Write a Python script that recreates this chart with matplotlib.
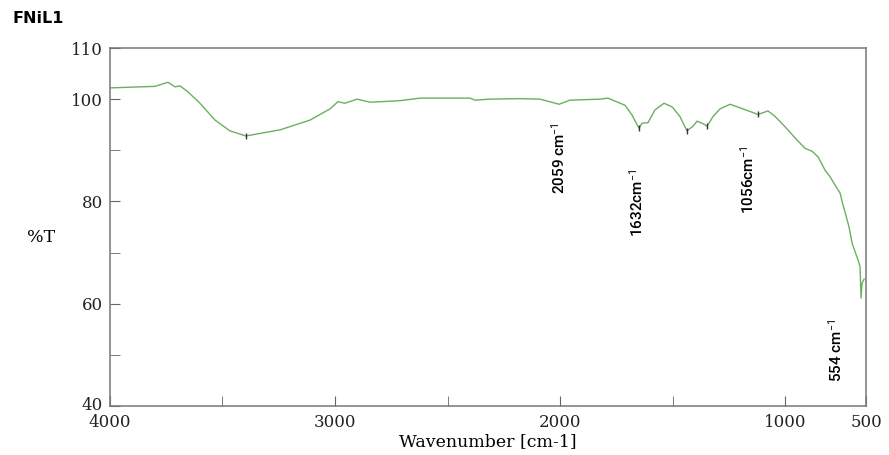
import matplotlib
matplotlib.use('Agg')
import matplotlib.pyplot as plt
import matplotlib.transforms as mtransforms
import numpy as np

# spectrum (wavenumber cm-1, %T)
wavenumber = [4000, 3800, 3742, 3711, 3689, 3653, 3600, 3533, 3467, 3396,
              3244, 3111, 3022, 2987, 2956, 2902, 2844, 2711, 2622, 2400,
              2378, 2311, 2178, 2089, 2004, 1956, 1822, 1787, 1711, 1680,
              1649, 1636, 1609, 1578, 1538, 1502, 1467, 1436, 1409, 1391,
              1360, 1347, 1320, 1289, 1244, 1200, 1120, 1076, 1044, 1000,
              926, 877, 833, 796, 753, 722, 660, 648, 605, 586,
              549, 537, 531, 525, 512]
transmittance = [102.2, 102.5, 103.3, 102.4, 102.6, 101.4, 99.2, 95.9, 93.8, 92.8,
                 94.0, 95.9, 98.1, 99.5, 99.2, 100.0, 99.4, 99.7, 100.2, 100.2,
                 99.8, 100.0, 100.1, 100.0, 99.0, 99.8, 100.0, 100.2, 98.8, 96.9,
                 94.3, 95.3, 95.4, 97.9, 99.2, 98.5, 96.6, 93.8, 94.7, 95.7,
                 95.1, 94.7, 96.6, 98.1, 99.0, 98.3, 97.0, 97.7, 96.6, 94.6,
                 92.0, 90.4, 89.8, 88.7, 86.1, 84.8, 81.6, 80.0, 75.0, 71.8,
                 68.5, 67.2, 61.1, 64.0, 64.8]

peak_marks = [3396, 1649, 1436, 1347, 1120]
peak_vals = [92.8, 94.3, 93.8, 94.7, 97.0]

labels = ['2059 cm$^{-1}$', '1632cm$^{-1}$', '1056cm$^{-1}$', '554 cm$^{-1}$']
label_x = [2004, 1658, 1164, 685]
label_y = [88.5, 79.7, 84.2, 50.9]

plt.rcParams['mathtext.fontset'] = 'custom'
plt.rcParams['mathtext.rm'] = 'Roboto'
plt.rcParams['mathtext.it'] = 'Roboto'


# the region below 1000 cm-1 is compressed on the original axis
def fwd(w):
    w = np.asarray(w, dtype=float)
    return np.where(w >= 1000, w, 1000 - (1000 - w) * 0.72)


def inv(v):
    v = np.asarray(v, dtype=float)
    return np.where(v >= 1000, v, 1000 - (1000 - v) / 0.72)


fig = plt.figure(figsize=(8.89, 4.55), dpi=100)
ax = fig.add_axes([0.1237, 0.1077, 0.8505, 0.7868])
ax.set_xscale('function', functions=(fwd, inv))

ax.plot(wavenumber, transmittance, color='#6cae62', lw=1.0)
ax.plot(peak_marks, peak_vals, ls='none', marker='|', ms=4, color='#333333')

ax.set_xlim(4000, 500)
ax.set_ylim(40, 110)

ax.set_xticks([4000, 3000, 2000, 1000, 500])
ax.set_xticks([3500, 2500, 1500], minor=True)
ax.set_yticks([40, 60, 80, 100, 110])
ax.set_yticks([50, 70, 90], minor=True)
ax.tick_params(which='both', direction='in', length=7, color='#666666')
ax.tick_params(axis='y', labelsize=12, pad=5)
ax.tick_params(axis='x', labelsize=12, pad=6)
for lab in ax.get_xticklabels() + ax.get_yticklabels():
    lab.set_family('DejaVu Serif')
    lab.set_color('#222222')

# nudge the bottom y label up a little, like the original
lab40 = ax.get_yticklabels()[0]
lab40.set_transform(lab40.get_transform() +
                    mtransforms.ScaledTranslation(0, 2 / 72, fig.dpi_scale_trans))

for sp in ax.spines.values():
    sp.set_color('#777777')
    sp.set_linewidth(1.1)

for t, x, y in zip(labels, label_x, label_y):
    ax.text(x, y, t, rotation=90, ha='center', va='center', fontsize=11,
            family=['Roboto', 'DejaVu Sans'], fontweight='medium')

ax.set_xlabel('Wavenumber [cm-1]', family='DejaVu Serif', fontsize=12.5, labelpad=1)
fig.text(0.03, 0.479, '%T', family='DejaVu Serif', fontsize=12.5, va='center')
fig.text(0.014, 0.96, 'FNiL1', fontsize=11.5, fontweight='bold', va='center')

fig.savefig('out.png', dpi=100)
